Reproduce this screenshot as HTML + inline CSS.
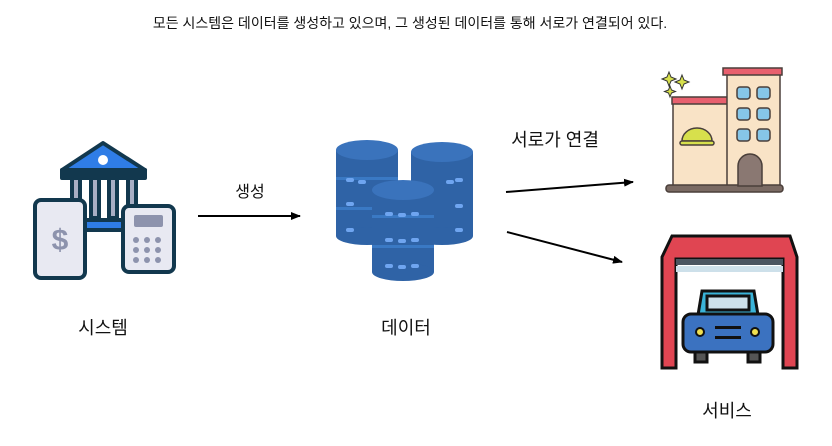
<!DOCTYPE html>
<html><head><meta charset="utf-8"><style>
html,body{margin:0;padding:0;background:#fff;}
svg{display:block;}
text{font-family:"Liberation Sans","Noto Sans CJK KR",sans-serif;fill:#111;}
</style></head><body>
<svg width="832" height="446" viewBox="0 0 832 446" xmlns="http://www.w3.org/2000/svg">
<defs>
<marker id="ah" markerWidth="10" markerHeight="8" refX="9" refY="4" orient="auto" markerUnits="userSpaceOnUse"><path d="M0,0 L10,4 L0,8z" fill="#000"/></marker>
</defs>
<text x="410" y="28" font-size="14" text-anchor="middle">모든 시스템은 데이터를 생성하고 있으며, 그 생성된 데이터를 통해 서로가 연결되어 있다.</text>

<!-- bank -->
<g stroke="#12384e" stroke-width="4" stroke-linejoin="round">
<path d="M62,170 L103,143 L145,170 Z" fill="#2f7de6"/>
<rect x="62" y="170" width="83" height="8" fill="#12384e"/>
<rect x="72" y="178" width="8" height="40" fill="#a8aec4"/>
<rect x="91" y="178" width="8" height="40" fill="#a8aec4"/>
<rect x="109" y="178" width="8" height="40" fill="#a8aec4"/>
<rect x="128" y="178" width="8" height="40" fill="#a8aec4"/>
<rect x="82" y="220" width="42" height="10" fill="#2f7de6"/>
<rect x="35" y="200" width="50" height="78" rx="6" fill="#e8e9f2"/>
<rect x="123" y="206" width="51" height="66" rx="6" fill="#e8e9f2"/>
</g>
<circle cx="103" cy="160" r="5" fill="#fff"/>
<text x="60" y="250" font-size="30" font-weight="bold" text-anchor="middle" style="fill:#8d93ad">$</text>
<rect x="134" y="215" width="29" height="12" rx="2" fill="#8d93ad"/>
<g fill="#8d93ad"><circle cx="136" cy="240" r="3"/><circle cx="147" cy="240" r="3"/><circle cx="158" cy="240" r="3"/><circle cx="136" cy="250" r="3"/><circle cx="147" cy="250" r="3"/><circle cx="158" cy="250" r="3"/><circle cx="136" cy="260" r="3"/><circle cx="147" cy="260" r="3"/><circle cx="158" cy="260" r="3"/></g>

<line x1="198" y1="216" x2="300" y2="216" stroke="#000" stroke-width="2" marker-end="url(#ah)"/>
<text x="250" y="197" font-size="16" text-anchor="middle">생성</text>

<!-- databases -->
<g>
<rect x="336" y="150" width="62" height="86" fill="#2f63a6"/><ellipse cx="367" cy="236" rx="31" ry="9" fill="#2f63a6"/>
<rect x="336" y="177" width="62" height="3" fill="#3a79c4"/><rect x="336" y="207" width="62" height="3" fill="#3a79c4"/>
<ellipse cx="367" cy="150" rx="31" ry="10" fill="#3a73bc"/>
<rect x="411" y="152" width="62" height="84" fill="#2f63a6"/><ellipse cx="442" cy="236" rx="31" ry="9" fill="#2f63a6"/>
<ellipse cx="442" cy="152" rx="31" ry="10" fill="#3a73bc"/>
<rect x="372" y="190" width="62" height="82" fill="#2f63a6"/><ellipse cx="403" cy="272" rx="31" ry="9" fill="#2f63a6"/>
<rect x="372" y="215" width="62" height="3" fill="#3a79c4"/><rect x="372" y="245" width="62" height="3" fill="#3a79c4"/>
<ellipse cx="403" cy="190" rx="31" ry="10" fill="#3a73bc"/>
<g fill="#6fa5f0"><rect x="346" y="178" width="8" height="4" rx="2"/><rect x="358" y="180" width="8" height="4" rx="2"/><rect x="346" y="202" width="8" height="4" rx="2"/><rect x="346" y="228" width="8" height="4" rx="2"/>
<rect x="455" y="178" width="8" height="4" rx="2"/><rect x="446" y="180" width="8" height="4" rx="2"/><rect x="455" y="204" width="8" height="4" rx="2"/><rect x="455" y="228" width="8" height="4" rx="2"/>
<rect x="385" y="212" width="8" height="4" rx="2"/><rect x="398" y="213" width="8" height="4" rx="2"/><rect x="411" y="212" width="8" height="4" rx="2"/>
<rect x="385" y="238" width="8" height="4" rx="2"/><rect x="398" y="239" width="8" height="4" rx="2"/><rect x="411" y="238" width="8" height="4" rx="2"/>
<rect x="385" y="264" width="8" height="4" rx="2"/><rect x="398" y="265" width="8" height="4" rx="2"/><rect x="411" y="264" width="8" height="4" rx="2"/></g>
</g>

<text x="555" y="146" font-size="18" text-anchor="middle">서로가 연결</text>
<line x1="506" y1="192" x2="633" y2="182" stroke="#000" stroke-width="2" marker-end="url(#ah)"/>
<line x1="507" y1="232" x2="622" y2="262" stroke="#000" stroke-width="2" marker-end="url(#ah)"/>

<!-- hotel -->
<g stroke="#4a3f3a" stroke-width="1.5">
<rect x="673" y="102" width="55" height="84" fill="#f9e3c6"/>
<rect x="672" y="97" width="57" height="7" fill="#e8606e"/>
<rect x="727" y="72" width="53" height="114" fill="#f9e3c6"/>
<rect x="723" y="68" width="59" height="7" fill="#e8606e"/>
<rect x="666" y="185" width="117" height="7" rx="3" fill="#7a6a63"/>
<path d="M738,186 V166 a12,12 0 0 1 24,0 V186 Z" fill="#8a7872"/>
<g fill="#86c6e8"><rect x="737" y="87" width="13" height="12" rx="3"/><rect x="757" y="87" width="13" height="12" rx="3"/><rect x="737" y="108" width="13" height="12" rx="3"/><rect x="757" y="108" width="13" height="12" rx="3"/><rect x="737" y="129" width="13" height="12" rx="3"/><rect x="757" y="129" width="13" height="12" rx="3"/></g>
<path d="M682,141 a15,13 0 0 1 30,0 Z" fill="#d7e04c"/>
<rect x="680" y="141" width="34" height="4" rx="2" fill="#d7e04c"/>
</g>
<path d="M669,72 l2,5 5,2 -5,2 -2,5 -2,-5 -5,-2 5,-2z M682,75 l2,5 5,2 -5,2 -2,5 -2,-5 -5,-2 5,-2z M670,86 l1.5,4 4,1.5 -4,1.5 -1.5,4 -1.5,-4 -4,-1.5 4,-1.5z" fill="#d7e04c" stroke="#333" stroke-width="1"/>

<!-- garage -->
<path d="M662,368 V257 L672,236 H790 L797,257 V368 H783 V259 H676 V368 Z" fill="#e04552" stroke="#111" stroke-width="3"/>
<rect x="676" y="259" width="107" height="6" fill="#4a5560"/>
<rect x="676" y="266" width="107" height="6" fill="#cde0ea"/>
<g stroke="#111" stroke-width="3">
<path d="M698,315 L702,291 H754 L758,315 Z" fill="#3ab3d8"/>
<rect x="707" y="296" width="42" height="14" fill="#cde0ea"/>
<rect x="695" y="350" width="12" height="12" fill="#555"/><rect x="748" y="350" width="12" height="12" fill="#555"/>
<rect x="683" y="314" width="90" height="38" rx="8" fill="#3b72c0"/>
</g>
<circle cx="700" cy="332" r="4" fill="#f0e050" stroke="#111" stroke-width="2"/>
<circle cx="755" cy="332" r="4" fill="#f0e050" stroke="#111" stroke-width="2"/>
<rect x="715" y="326" width="26" height="3" fill="#111"/><rect x="715" y="336" width="26" height="3" fill="#111"/>

<text x="103" y="334" font-size="18" text-anchor="middle">시스템</text>
<text x="406" y="334" font-size="18" text-anchor="middle">데이터</text>
<text x="727" y="417" font-size="18" text-anchor="middle">서비스</text>
</svg>
</body></html>
